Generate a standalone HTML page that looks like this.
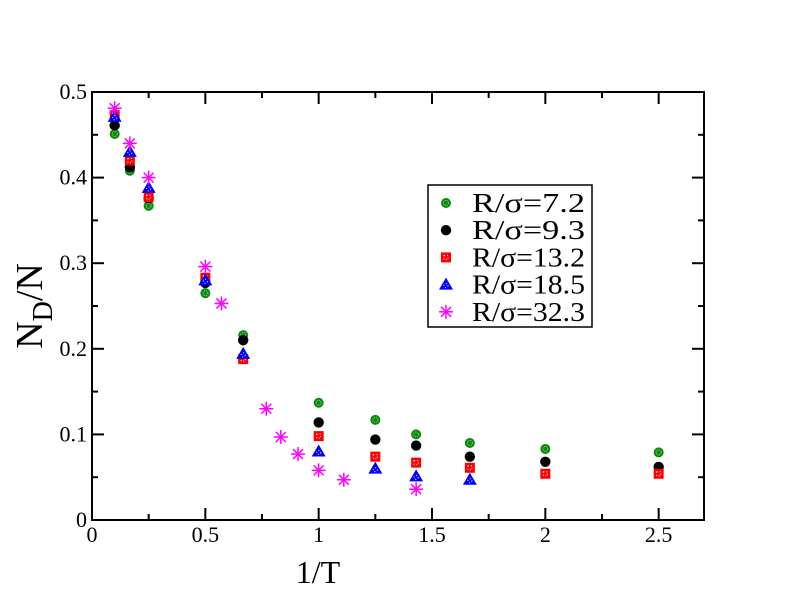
<!DOCTYPE html>
<html><head><meta charset="utf-8"><style>
html,body{margin:0;padding:0;background:#fff;}
svg{display:block;font-family:"Liberation Serif",serif;}
</style></head><body>
<svg id="chart" width="792" height="612" xmlns="http://www.w3.org/2000/svg"></svg>
<script>
const xTicks=[0,0.5,1,1.5,2,2.5];
const xTickLabels=["0","0.5","1","1.5","2","2.5"];
const yTicks=[0,0.1,0.2,0.3,0.4,0.5];
const yTickLabels=["0","0.1","0.2","0.3","0.4","0.5"];
const seriesNames=["R/σ=7.2","R/σ=9.3","R/σ=13.2","R/σ=18.5","R/σ=32.3"];
const x72=[0.1,0.167,0.25,0.5,0.667,1,1.25,1.43,1.667,2,2.5];
const y72=[0.451,0.408,0.367,0.265,0.216,0.137,0.117,0.100,0.090,0.083,0.079];
const x93=[0.1,0.167,0.25,0.5,0.667,1,1.25,1.43,1.667,2,2.5];
const y93=[0.461,0.412,0.376,0.277,0.210,0.114,0.094,0.087,0.074,0.068,0.062];
const x132=[0.1,0.167,0.25,0.5,0.667,1,1.25,1.43,1.667,2,2.5];
const y132=[0.473,0.420,0.377,0.283,0.188,0.098,0.074,0.067,0.061,0.054,0.054];
const x185=[0.1,0.167,0.25,0.5,0.667,1,1.25,1.43,1.667];
const y185=[0.471,0.430,0.388,0.280,0.194,0.080,0.060,0.051,0.047];
const x323=[0.1,0.167,0.25,0.5,0.571,0.769,0.833,0.909,1,1.111,1.43];
const y323=[0.481,0.440,0.400,0.296,0.253,0.130,0.097,0.077,0.058,0.047,0.036];

const NS="http://www.w3.org/2000/svg";
const svg=document.getElementById('chart');
const L=92,R=704,T=92,B=520;
const xs=v=>L+v/2.7*(R-L);
const ys=v=>B-v/0.5*(B-T);
function mk(tag,attrs,parent){const e=document.createElementNS(NS,tag);for(const k in attrs)e.setAttribute(k,attrs[k]);(parent||svg).appendChild(e);return e;}

const frame=mk('rect',{x:L,y:T,width:R-L,height:B-T,fill:'none',stroke:'#000','stroke-width':2});



for(let i=0;i<xTicks.length;i++){
  const X=xs(xTicks[i]);
  const t1=mk('line',{x1:X,y1:B,x2:X,y2:B-12,stroke:'#000','stroke-width':2});
  
  
  const t2=mk('line',{x1:X,y1:T,x2:X,y2:T+12,stroke:'#000','stroke-width':2});
  
  
  const m=xTicks[i]+0.25;
  if(m<2.7){const Xm=xs(m);
    const a=mk('line',{x1:Xm,y1:B,x2:Xm,y2:B-6,stroke:'#000','stroke-width':2});
    
    
    const b=mk('line',{x1:Xm,y1:T,x2:Xm,y2:T+6,stroke:'#000','stroke-width':2});
    
    }
  const lb=mk('text',{x:X,y:B+22,'text-anchor':'middle','font-size':22});
  lb.textContent=xTickLabels[i];
  
  
}
for(let i=0;i<yTicks.length;i++){
  const Y=ys(yTicks[i]);
  const t1=mk('line',{x1:L,y1:Y,x2:L+12,y2:Y,stroke:'#000','stroke-width':2});
  
  
  const t2=mk('line',{x1:R,y1:Y,x2:R-12,y2:Y,stroke:'#000','stroke-width':2});
  
  
  const m=yTicks[i]+0.05;
  if(m<0.5){const Ym=ys(m);
    const a=mk('line',{x1:L,y1:Ym,x2:L+6,y2:Ym,stroke:'#000','stroke-width':2});
    
    
    const b=mk('line',{x1:R,y1:Ym,x2:R-6,y2:Ym,stroke:'#000','stroke-width':2});
    
    }
  const lb=mk('text',{x:L-5,y:Y+7,'text-anchor':'end','font-size':22});
  lb.textContent=yTickLabels[i];
  
  
}
const xt=mk('text',{x:318,y:583,'text-anchor':'middle','font-size':32});
xt.textContent='1/T';


const yt=mk('text',{transform:'translate(42,306) rotate(-90)','text-anchor':'middle','font-size':38});
yt.innerHTML='N<tspan font-size="28" dy="10">D</tspan><tspan dy="-10">/N</tspan>';



function marker(kind,cx,cy,parent){
  const g=mk('g',{},parent);
  if(kind===0){mk('circle',{cx,cy,r:5,fill:'#0a8a0a'},g);
    mk('circle',{cx,cy,r:2.5,fill:'none',stroke:'#8fcf8f','stroke-width':1,'stroke-dasharray':'1 1'},g);}
  else if(kind===1){mk('circle',{cx,cy,r:5.2,fill:'#000'},g);}
  else if(kind===2){mk('rect',{x:cx-5,y:cy-5,width:10,height:10,fill:'#f00'},g);
    mk('rect',{x:cx-2,y:cy-2,width:4,height:4,fill:'none',stroke:'#fff','stroke-width':1,'stroke-dasharray':'1 2'},g);}
  else if(kind===3){mk('polygon',{points:`${cx},${cy-7} ${cx-7},${cy+5} ${cx+7},${cy+5}`,fill:'#00f'},g);
    mk('circle',{cx,cy:cy+1,r:2,fill:'none',stroke:'#fff','stroke-width':1,'stroke-dasharray':'1 2'},g);}
  else {const c='#f0f';
    mk('line',{x1:cx-7,y1:cy,x2:cx+7,y2:cy,stroke:c,'stroke-width':1.5},g);
    mk('line',{x1:cx,y1:cy-7,x2:cx,y2:cy+7,stroke:c,'stroke-width':1.5},g);
    mk('line',{x1:cx-5,y1:cy-5,x2:cx+5,y2:cy+5,stroke:c,'stroke-width':1.5},g);
    mk('line',{x1:cx-5,y1:cy+5,x2:cx+5,y2:cy-5,stroke:c,'stroke-width':1.5},g);}
  return g;
}
const allX=[x72,x93,x132,x185,x323], allY=[y72,y93,y132,y185,y323];
const seriesKeys=['series-r7-2','series-r9-3','series-r13-2','series-r18-5','series-r32-3'];
for(let s=0;s<5;s++){
  const g=mk('g',{});
  
  
  for(let i=0;i<allX[s].length;i++){
    const p=marker(s,xs(allX[s][i]),ys(allY[s][i]),g);
    
    
  }
}
const lg=mk('g',{});


mk('rect',{x:428,y:185,width:164,height:142,fill:'#fff',stroke:'#000','stroke-width':1.5},lg);
for(let s=0;s<5;s++){
  const Y=203+s*27.2;
  const e=mk('g',{},lg);
  
  
  marker(s,446,Y,e);
  const t=mk('text',{x:472,y:Y+9,'font-size':27,textLength:113,lengthAdjust:'spacingAndGlyphs'},e);
  t.textContent=seriesNames[s];
}
</script>
</body></html>
